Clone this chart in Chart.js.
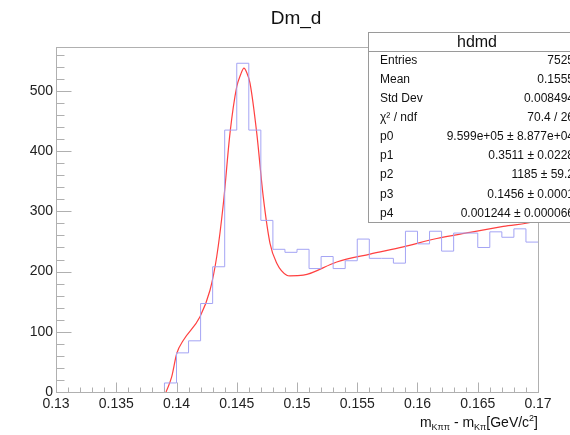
<!DOCTYPE html>
<html>
<head>
<meta charset="utf-8">
<script src="https://cdn.jsdelivr.net/npm/chart.js@4/dist/chart.umd.min.js"></script>
<style>
html, body { margin: 0; padding: 0; background: #fff; }
#wrap { width: 570px; height: 435px; }
</style>
</head>
<body>
<div id="wrap"><canvas id="myChart"></canvas></div>
<script>
// histogram: 40 bins of 0.001 from 0.13 to 0.17
var binLow = 0.13;
var binWidth = 0.001;
var counts = [0, 0, 0, 0, 0, 0, 0, 0, 0,
    15, 65, 85, 147, 208, 435, 546, 435, 285, 237,
    232, 237, 205, 225, 205, 218, 254, 222, 222, 214,
    267, 246, 267, 234, 264, 264, 240, 266, 257, 271, 249];

// fit curve
var fitX = [0.13913, 0.1396, 0.14002, 0.14057, 0.14195, 0.14278, 0.14334, 0.14389, 0.14444,
    0.145, 0.1453, 0.1456, 0.1458, 0.1461, 0.14666, 0.1472, 0.14776, 0.14832, 0.14915, 0.1494,
    0.15052, 0.1533, 0.15606, 0.15882, 0.1616, 0.16436, 0.16712, 0.16989, 0.17];
var fitY = [0, 25, 64, 86, 125, 169, 225, 313, 430,
    507, 526, 538, 532, 513, 430, 324, 247, 214, 194, 193,
    194, 216, 229, 241, 255, 265, 275, 284, 285];

var xTicks = [0.13, 0.135, 0.14, 0.145, 0.15, 0.155, 0.16, 0.165, 0.17];
var yTicks = [0, 100, 200, 300, 400, 500];

var statsTitle = 'hdmd';
var statsNames = ['Entries', 'Mean', 'Std Dev', '\u03c7\u00b2 / ndf', 'p0', 'p1', 'p2', 'p3', 'p4'];
var statsValues = ['7525', '0.1555', '0.008494', '70.4 / 26', '9.599e+05 \u00b1 8.877e+04',
    '0.3511 \u00b1 0.0228', '1185 \u00b1 59.2', '0.1456 \u00b1 0.0001', '0.001244 \u00b1 0.000066'];

// outline points: start at the first filled bin, from zero
var first = counts.findIndex(function(c) { return c > 0; });
var histPoints = [{ x: binLow + first * binWidth, y: 0 }];
for (var i = first; i < counts.length; i++) {
    histPoints.push({ x: binLow + i * binWidth, y: counts[i] });
}
histPoints.push({ x: binLow + counts.length * binWidth, y: counts[counts.length - 1] });

var fitPoints = fitX.map(function(x, i) {
    return { x: x, y: fitY[i] };
});

var FONT = '"Liberation Sans", Arial, sans-serif';

var rootPlugin = {
    id: 'rootLook',
    afterDatasetsDraw: function(chart) {
        var ctx = chart.ctx, a = chart.chartArea;
        var xs = chart.scales.x, ys = chart.scales.y;
        ctx.save();
        ctx.strokeStyle = '#b0b0b0';
        ctx.lineWidth = 1;
        var L = Math.round(a.left) + 0.5, R = Math.round(a.right) + 0.5;
        var T = Math.round(a.top) + 0.5, B = Math.round(a.bottom) + 0.5;
        ctx.strokeRect(L, T, R - L, B - T);
        ctx.beginPath();
        for (var k = 0; k <= 40; k++) {
            var px = Math.round(xs.getPixelForValue(binLow + k * binWidth)) + 0.5;
            var len = (k % 5 === 0) ? 10 : 5;
            ctx.moveTo(px, B);
            ctx.lineTo(px, B - len);
        }
        for (var v = 0; v <= 560; v += 20) {
            var py = Math.round(ys.getPixelForValue(v)) + 0.5;
            var ylen = (v % 100 === 0) ? 15 : 8;
            ctx.moveTo(L, py);
            ctx.lineTo(L + ylen, py);
        }
        ctx.stroke();
        ctx.restore();
    },
    afterDraw: function(chart) {
        var ctx = chart.ctx;
        ctx.save();
        // title
        ctx.fillStyle = '#111';
        ctx.font = '19px ' + FONT;
        ctx.textAlign = 'center';
        ctx.textBaseline = 'alphabetic';
        ctx.fillText('Dm_d', 296, 24);

        // x axis title, right aligned to the frame
        var parts = [
            ['m', 14, 0], ['K\u03c0\u03c0', 9, 3], [' - m', 14, 0], ['K\u03c0', 9, 3],
            ['[GeV/c', 14, 0], ['2', 9, -6], [']', 14, 0]
        ];
        var total = 0;
        parts.forEach(function(p) {
            ctx.font = p[1] + 'px ' + FONT;
            total += ctx.measureText(p[0]).width;
        });
        var x = chart.chartArea.right - total;
        ctx.textAlign = 'left';
        parts.forEach(function(p) {
            ctx.font = p[1] + 'px ' + FONT;
            ctx.fillText(p[0], x, 427 + p[2]);
            x += ctx.measureText(p[0]).width;
        });

        // stats box
        ctx.fillStyle = '#fff';
        ctx.fillRect(368.5, 32.5, 230, 190);
        ctx.strokeStyle = '#9a9a9a';
        ctx.lineWidth = 1;
        ctx.strokeRect(368.5, 32.5, 230, 190);
        ctx.beginPath();
        ctx.moveTo(368.5, 51.5);
        ctx.lineTo(600, 51.5);
        ctx.stroke();
        ctx.fillStyle = '#111';
        ctx.font = '16px ' + FONT;
        ctx.textAlign = 'center';
        ctx.textBaseline = 'middle';
        ctx.fillText(statsTitle, 477, 43);
        ctx.font = '12px ' + FONT;
        for (var i = 0; i < statsNames.length; i++) {
            var y = 60.5 + i * 19.1;
            ctx.textAlign = 'left';
            ctx.fillText(statsNames[i], 380, y);
            ctx.textAlign = 'right';
            ctx.fillText(statsValues[i], 574, y);
        }
        ctx.restore();
    }
};

var ctx = document.getElementById('myChart');
var myChart = new Chart(ctx, {
    type: 'line',
    data: {
        datasets: [
            {
                label: 'hdmd',
                data: histPoints,
                stepped: 'before',
                borderColor: '#a4a4f4',
                borderWidth: 1,
                pointRadius: 0,
                fill: false
            },
            {
                label: 'fit',
                data: fitPoints,
                borderColor: 'rgba(255, 30, 30, 0.85)',
                borderWidth: 1.2,
                pointRadius: 0,
                cubicInterpolationMode: 'monotone',
                fill: false
            }
        ]
    },
    options: {
        responsive: true,
        maintainAspectRatio: false,
        animation: false,
        devicePixelRatio: 1,
        layout: { padding: { left: 0, right: 32, top: 47, bottom: 0 } },
        plugins: {
            legend: { display: false },
            title: { display: false },
            tooltip: { enabled: false }
        },
        scales: {
            x: {
                type: 'linear',
                min: 0.13,
                max: 0.17,
                grid: { display: false, drawTicks: false },
                border: { display: false },
                afterBuildTicks: function(s) {
                    s.ticks = xTicks.map(function(v) { return { value: v }; });
                },
                afterFit: function(s) {
                    s.height = 43;
                    s.paddingLeft = 0;
                    s.paddingRight = 0;
                },
                ticks: {
                    autoSkip: false,
                    maxRotation: 0,
                    padding: 4,
                    color: '#222',
                    font: { family: FONT, size: 14 },
                    callback: function(v) { return String(+v.toFixed(3)); }
                }
            },
            y: {
                min: 0,
                max: 573,
                grid: { display: false, drawTicks: false },
                border: { display: false },
                afterBuildTicks: function(s) {
                    s.ticks = yTicks.map(function(v) { return { value: v }; });
                },
                afterFit: function(s) {
                    s.width = 56;
                    s.paddingTop = 0;
                    s.paddingBottom = 0;
                },
                ticks: {
                    autoSkip: false,
                    padding: 3,
                    color: '#222',
                    font: { family: FONT, size: 14 }
                }
            }
        }
    },
    plugins: [rootPlugin]
});
</script>
</body>
</html>
